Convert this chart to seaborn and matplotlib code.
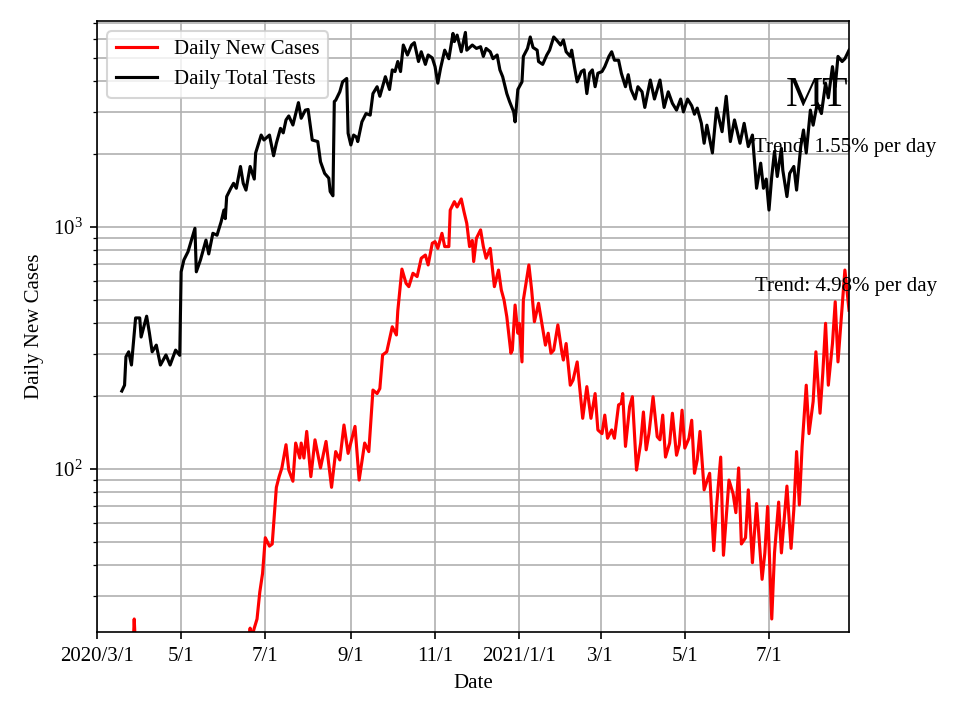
import matplotlib
matplotlib.use("Agg")
import matplotlib.pyplot as plt
import seaborn as sns
import pandas as pd

# ---- data (days since 2020-03-01) ----
case_day = [18, 22, 25, 26, 27, 28, 32, 40, 50, 60, 70, 80, 90, 100, 106, 109,
            111, 112, 114, 116, 118, 120, 122, 125, 127, 130, 132, 134, 137, 139,
            142, 144, 147, 148, 150, 152, 155, 158, 162, 166, 170, 173, 176, 179,
            182, 187, 190, 194, 197, 200, 203, 205, 207, 210, 214, 217, 218, 221,
            224, 226, 229, 232, 235, 238, 240, 243, 245, 247, 250, 252, 255, 256,
            259, 261, 264, 266, 268, 270, 272, 273, 275, 278, 280, 282, 285, 287,
            288, 291, 293, 295, 297, 300, 301, 303, 305, 306, 308, 309, 313, 315,
            317, 320, 322, 325, 327, 329, 331, 334, 337, 338, 340, 343, 345, 348,
            352, 355, 358, 361, 363, 366, 368, 370, 373, 375, 378, 380, 381, 383,
            386, 388, 391, 394, 396, 398, 400, 403, 406, 408, 410, 412, 415, 417,
            420, 422, 424, 426, 429, 431, 433, 435, 437, 440, 442, 444, 447, 449,
            452, 454, 458, 461, 463, 465, 467, 470, 472, 475, 476, 478, 482, 484,
            486, 489, 491, 494, 496, 500, 503, 505, 507, 509, 511, 514, 516, 519,
            521, 524, 526, 528, 530, 533, 535, 537, 540, 542, 545]
case_val = [4, 8, 14, 17, 24, 18, 12, 9, 7, 5, 6, 7, 9, 12, 15, 18,
            22, 20, 22, 24, 31, 37, 52, 48, 49, 84, 93, 101, 126, 99,
            89, 128, 111, 128, 111, 143, 93, 132, 101, 130, 84, 118, 109, 152,
            116, 150, 90, 128, 118, 212, 205, 215, 296, 305, 387, 358, 450, 670,
            585, 567, 644, 624, 743, 766, 697, 857, 870, 816, 942, 830, 830, 1175,
            1273, 1210, 1306, 1156, 1035, 830, 880, 720, 899, 973, 830, 743, 816, 644,
            567, 664, 550, 499, 426, 301, 310, 476, 364, 400, 277, 499, 697, 550,
            406, 484, 413, 325, 364, 301, 310, 394, 301, 282, 330, 222, 233, 277,
            162, 219, 162, 205, 145, 140, 167, 134, 145, 134, 184, 187, 205, 124,
            181, 199, 99, 128, 172, 120, 140, 199, 136, 132, 167, 112, 128, 170,
            114, 126, 175, 122, 134, 159, 96, 109, 143, 82, 89, 96, 46, 70,
            112, 44, 90, 79, 66, 101, 49, 52, 82, 41, 50, 72, 35, 45,
            70, 24, 45, 73, 45, 85, 47, 68, 118, 71, 124, 222, 140, 190,
            305, 170, 249, 400, 222, 330, 491, 277, 469, 664, 453]

test_day = [18, 20, 21, 23, 25, 28, 31, 32, 36, 38, 40, 43, 46, 50, 53, 57,
            60, 61, 63, 66, 71, 72, 75, 79, 81, 84, 87, 90, 92, 93, 94, 97,
            99, 101, 104, 106, 108, 111, 114, 115, 119, 121, 125, 128, 130, 133,
            135, 137, 139, 142, 146, 148, 151, 153, 156, 160, 162, 165, 168, 169,
            171, 172, 173, 176, 178, 181, 182, 184, 186, 188, 189, 192, 195, 198,
            200, 203, 205, 209, 212, 214, 216, 218, 220, 222, 225, 228, 230, 233,
            235, 238, 240, 243, 245, 247, 249, 252, 255, 258, 259, 261, 264, 267,
            268, 272, 275, 278, 280, 282, 285, 287, 290, 292, 294, 297, 299, 302,
            303, 305, 308, 309, 312, 314, 316, 319, 320, 323, 326, 328, 331, 333,
            336, 338, 340, 343, 344, 346, 348, 351, 353, 355, 357, 359, 361, 363,
            366, 368, 371, 373, 375, 378, 380, 383, 385, 387, 390, 392, 395, 397,
            401, 404, 408, 411, 414, 417, 420, 423, 425, 428, 431, 433, 435, 438,
            440, 442, 446, 449, 453, 456, 459, 462, 466, 469, 472, 475, 478, 481,
            483, 485, 487, 489, 491, 493, 496, 497, 500, 502, 505, 507, 510, 512,
            514, 517, 519, 522, 525, 528, 530, 533, 535, 537, 540, 542, 545]
test_val = [210, 222, 291, 305, 269, 421, 421, 351, 428, 365, 305, 325, 269, 296, 269, 310,
            295, 653, 731, 791, 988, 653, 731, 883, 774, 942, 925, 1052, 1175, 1083, 1336, 1446,
            1516, 1446, 1779, 1516, 1421, 1779, 1578, 2024, 2399, 2289, 2399, 1970, 2219, 2557,
            2450, 2770, 2877, 2640, 3266, 2815, 3041, 3060, 2289, 2255, 1861, 1666, 1592, 1402,
            1346, 3300, 3340, 3622, 3980, 4110, 2440, 2183, 2399, 2355, 2255, 2720, 2944, 2900,
            3560, 3800, 3470, 4180, 3700, 4460, 4390, 4830, 4390, 5650, 5140, 5650, 5780, 4830,
            5300, 4700, 5140, 5000, 4600, 3930, 4530, 5380, 4960, 6310, 5840, 6210, 5300, 6370,
            5380, 5650, 5470, 5560, 5070, 5470, 5300, 4960, 5140, 4460, 4180, 3560, 3300, 2990,
            2720, 3700, 3980, 5070, 5470, 6100, 5520, 5380, 4830, 4700, 5140, 5380, 6100, 5930,
            5650, 5930, 5300, 5070, 5380, 4600, 3980, 4390, 4460, 3560, 4320, 4460, 3800, 4320,
            4390, 4600, 5070, 5300, 4890, 4890, 4320, 3800, 4260, 3700, 3380, 3800, 3620, 3120,
            4050, 3380, 4050, 3120, 3620, 3245, 3041, 3380, 2990, 3380, 3170, 2925, 3100, 2682,
            2219, 2636, 2024, 3100, 2477, 3470, 2255, 2770, 2219, 2682, 2150, 2399, 1446, 1836,
            1446, 1578, 1175, 1617, 2055, 1617, 2114, 1720, 1336, 1666, 1779, 1421, 2150, 2517,
            2024, 3041, 2636, 3245, 2944, 3930, 3420, 4600, 3800, 5070, 4830, 4960, 5380]

tick_dates = ["2020-03-01", "2020-05-01", "2020-07-01", "2020-09-01", "2020-11-01",
              "2021-01-01", "2021-03-01", "2021-05-01", "2021-07-01"]
tick_labels = ["2020/3/1", "5/1", "7/1", "9/1", "11/1", "2021/1/1", "3/1", "5/1", "7/1"]

state = "MT"
trend_tests = "Trend: 1.55% per day"
trend_cases = "Trend: 4.98% per day"
trend_tests_y = 2125
trend_cases_y = 568

start = pd.Timestamp("2020-03-01")
end = start + pd.Timedelta(days=545)
text_x = end - pd.Timedelta(days=2.5)

assert len(case_day) == len(case_val)
assert len(test_day) == len(test_val)

cases = pd.DataFrame({"date": start + pd.to_timedelta(case_day, unit="D"), "value": case_val})
tests = pd.DataFrame({"date": start + pd.to_timedelta(test_day, unit="D"), "value": test_val})

plt.rcParams["font.family"] = ["Liberation Serif", "DejaVu Serif"]
plt.rcParams["font.size"] = 10
plt.rcParams["mathtext.fontset"] = "stix"

fig, ax = plt.subplots(figsize=(6.4, 4.8), dpi=150)
fig.subplots_adjust(left=0.101, right=0.8844, bottom=0.1222, top=0.9708)

sns.lineplot(data=cases, x="date", y="value", color="red", linewidth=1.5,
             label="Daily New Cases", ax=ax)
sns.lineplot(data=tests, x="date", y="value", color="black", linewidth=1.5,
             label="Daily Total Tests", ax=ax)

ax.set_yscale("log")
ax.set_ylim(21.2, 7100)
ax.set_xlim(start, end)
ax.set_xticks(pd.to_datetime(tick_dates))
ax.set_xticklabels(tick_labels)
ax.grid(True, which="both", color="#b0b0b0", linewidth=0.8)
ax.set_xlabel("Date")
ax.set_ylabel("Daily New Cases")
ax.legend(loc="upper left")

ax.text(0.999, 0.878, state, transform=ax.transAxes, ha="right", va="center", fontsize=20)
ax.text(text_x, trend_tests_y, trend_tests, ha="center", va="center", fontsize=10)
ax.text(text_x, trend_cases_y, trend_cases, ha="center", va="center", fontsize=10)

fig.savefig("out.png", dpi=150)
